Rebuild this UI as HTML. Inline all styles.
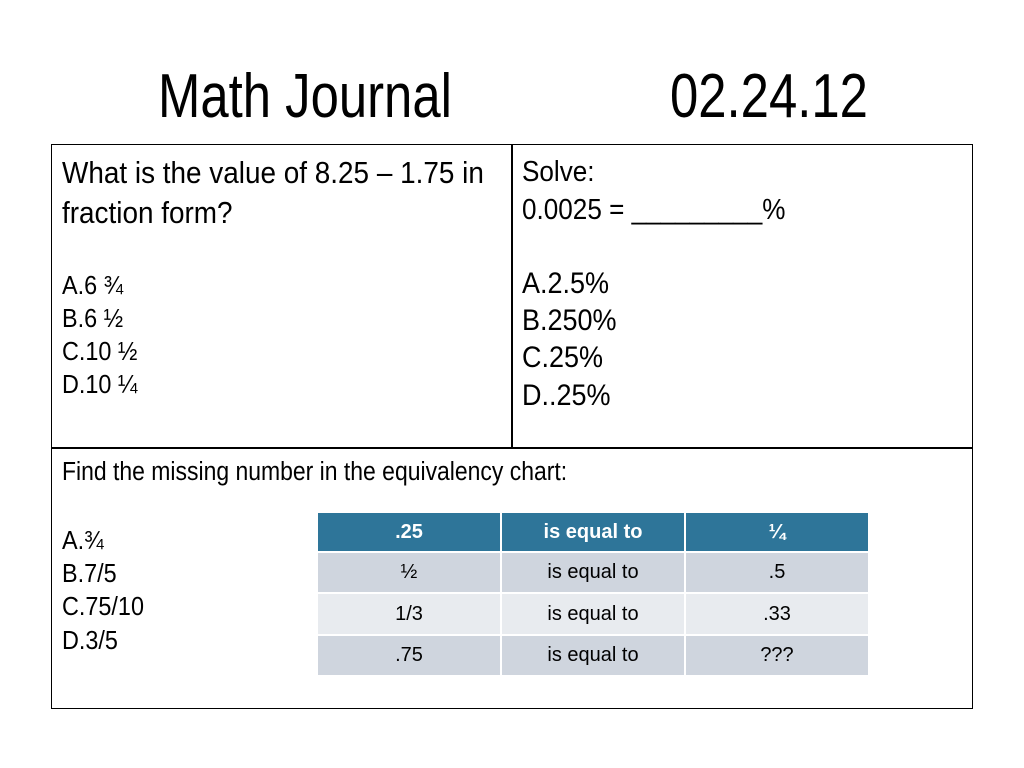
<!DOCTYPE html>
<html><head><meta charset="utf-8"><style>
body{margin:0;width:1024px;height:768px;background:#fff;position:relative;overflow:hidden;font-family:"Liberation Sans",sans-serif;color:#000}
.t{position:absolute;white-space:nowrap;transform:scaleX(0.82);transform-origin:left center}
.b{transform:scaleX(0.9)}
.ln{position:absolute;background:#000}
table{position:absolute;left:316px;top:511px;border-collapse:collapse;font-family:"Liberation Sans",sans-serif;font-size:20px}
td{width:182px;text-align:center;padding:0;border:2px solid #fff}
</style></head><body>
<div class="t" style="left:158px;top:62px;font-size:62px;line-height:70px">Math Journal</div>
<div class="t" style="left:670px;top:62px;font-size:62px;line-height:70px">02.24.12</div>

<div style="position:absolute;left:51px;top:144px;width:920px;height:563px;border:1.5px solid #000"></div>
<div class="ln" style="left:511px;top:144px;width:1.5px;height:304px"></div>
<div class="ln" style="left:51px;top:447px;width:922px;height:1.5px"></div>

<div>
<div class="t b" style="left:62px;top:156px;font-size:31px;line-height:34px">What is the value of 8.25 – 1.75 in</div>
<div class="t b" style="left:62px;top:196px;font-size:31px;line-height:34px">fraction form?</div>
<div class="t b" style="left:62px;top:270px;font-size:26px;line-height:30px">A.6 ¾</div>
<div class="t b" style="left:62px;top:303px;font-size:26px;line-height:30px">B.6 ½</div>
<div class="t b" style="left:62px;top:336px;font-size:26px;line-height:30px">C.10 ½</div>
<div class="t b" style="left:62px;top:369px;font-size:26px;line-height:30px">D.10 ¼</div>
</div>

<div>
<div class="t b" style="left:522px;top:156px;font-size:29px;line-height:32px">Solve:</div>
<div class="t b" style="left:522px;top:194px;font-size:29px;line-height:32px">0.0025 = _________%</div>
<div class="t b" style="left:522px;top:268px;font-size:30px;line-height:32px">A.2.5%</div>
<div class="t b" style="left:522px;top:305px;font-size:30px;line-height:32px">B.250%</div>
<div class="t b" style="left:522px;top:342px;font-size:30px;line-height:32px">C.25%</div>
<div class="t b" style="left:522px;top:380px;font-size:30px;line-height:32px">D..25%</div>
</div>

<div>
<div class="t b" style="left:62px;top:458px;font-size:25.5px;line-height:28px">Find the missing number in the equivalency chart:</div>
<div class="t b" style="left:62px;top:525px;font-size:26px;line-height:30px">A.¾</div>
<div class="t b" style="left:62px;top:558px;font-size:26px;line-height:30px">B.7/5</div>
<div class="t b" style="left:62px;top:591px;font-size:26px;line-height:30px">C.75/10</div>
<div class="t b" style="left:62px;top:625px;font-size:26px;line-height:30px">D.3/5</div>
</div>

<table>
<tr style="background:#2e7599;color:#fff;font-weight:bold;height:40px"><td>.25</td><td>is equal to</td><td>¼</td></tr>
<tr style="background:#cfd5de;height:41px"><td>½</td><td>is equal to</td><td>.5</td></tr>
<tr style="background:#e8ebef;height:42px"><td>1/3</td><td>is equal to</td><td>.33</td></tr>
<tr style="background:#cfd5de;height:41px"><td>.75</td><td>is equal to</td><td>???</td></tr>
</table>
</body></html>
